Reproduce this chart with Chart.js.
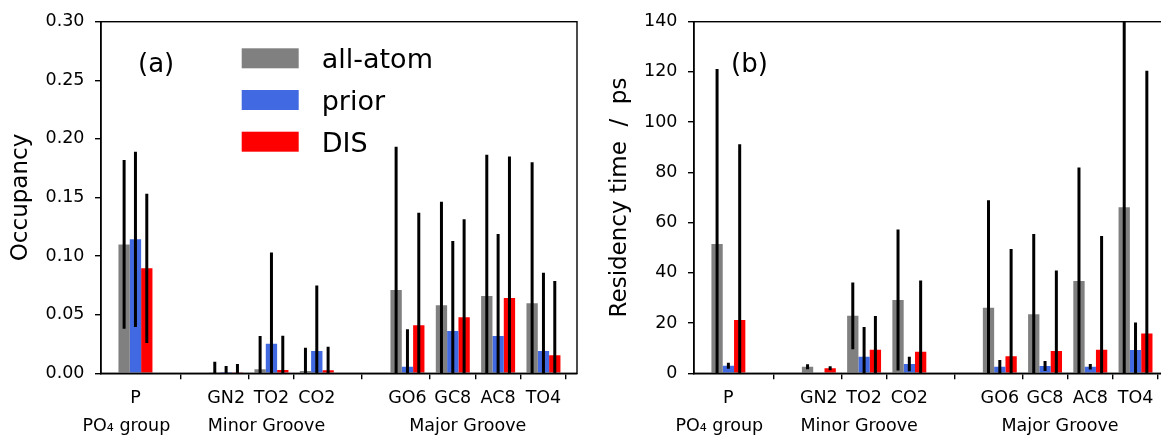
<!DOCTYPE html>
<html>
<head>
<meta charset="utf-8">
<script src="https://cdn.jsdelivr.net/npm/chart.js@4.4.1/dist/chart.umd.min.js"></script>
<style>
  html, body { margin: 0; padding: 0; background: #fff; overflow: hidden; }
  #wrap { position: relative; width: 1161px; height: 435px; overflow: hidden; }
  canvas { position: absolute; top: 0; }
  #chartA { left: 0; }
  #chartB { left: 590px; }
</style>
</head>
<body>
<div id="wrap">
  <canvas id="chartA" width="590" height="435"></canvas>
  <canvas id="chartB" width="590" height="435"></canvas>
</div>
<script>
// sites along the x axis (gaps between the groups)
const sites = ['P', 'GN2', 'TO2', 'CO2', 'GO6', 'GC8', 'AC8', 'TO4'];
const sitePos = [0, 2, 3, 4, 6, 7, 8, 9];
const groups = ['PO₄ group', 'Minor Groove', 'Major Groove'];
const groupPos = [-0.2, 2.89, 7.33];

const seriesNames = ['all-atom', 'prior', 'DIS'];
const seriesColors = ['#808080', '#4169e1', '#ff0000'];

// (a) occupancy
const occAll = [0.110, 0.0005, 0.0034, 0.0020, 0.0711, 0.0580, 0.0660, 0.0597];
const occAllErr = [0.072, 0.0094, 0.0284, 0.0198, 0.1222, 0.0884, 0.1205, 0.1203];
const occPrior = [0.1143, 0.0003, 0.0253, 0.0190, 0.0056, 0.0360, 0.0318, 0.0190];
const occPriorErr = [0.0747, 0.0059, 0.0777, 0.0560, 0.0319, 0.0769, 0.0871, 0.0668];
const occDis = [0.0896, 0.0004, 0.0028, 0.0026, 0.0410, 0.0478, 0.0643, 0.0154];
const occDisErr = [0.0637, 0.0075, 0.0292, 0.0201, 0.0960, 0.0836, 0.1207, 0.0634];
const occTicks = [0, 0.05, 0.10, 0.15, 0.20, 0.25, 0.30];

// (b) residency time (ps)
const resAll = [51.5, 2.6, 22.9, 29.2, 26.1, 23.5, 36.8, 66.1];
const resAllErr = [69.7, 1.0, 13.3, 28.1, 42.8, 32.0, 45.1, 75.0];
const resPrior = [3.0, 0, 6.6, 3.7, 2.6, 2.9, 2.6, 9.3];
const resPriorErr = [1.2, 0, 11.8, 2.9, 2.7, 2.0, 1.1, 10.9];
const resDis = [21.2, 2.0, 9.4, 8.6, 6.8, 8.9, 9.4, 15.8];
const resDisErr = [70.0, 0.8, 13.4, 28.4, 42.7, 32.0, 45.3, 104.7];
const resTicks = [0, 20, 40, 60, 80, 100, 120, 140];

const FONT = 'DejaVu Sans';

// black error bars, no caps, clipped to the axes
const errorBars = {
  id: 'errorBars',
  afterDatasetsDraw(chart) {
    const ctx = chart.ctx, a = chart.chartArea, y = chart.scales.y;
    ctx.save();
    ctx.beginPath();
    ctx.rect(a.left, a.top, a.right - a.left, a.bottom - a.top);
    ctx.clip();
    ctx.strokeStyle = '#000';
    ctx.lineWidth = 3;
    chart.data.datasets.forEach((ds, i) => {
      chart.getDatasetMeta(i).data.forEach((bar, j) => {
        const v = ds.data[j].y, e = ds.errors[j];
        if (!e) return;
        ctx.beginPath();
        ctx.moveTo(bar.x, y.getPixelForValue(v - e));
        ctx.lineTo(bar.x, y.getPixelForValue(v + e));
        ctx.stroke();
      });
    });
    ctx.restore();
  }
};

// frame, panel letter, group names under the ticks, legend
const decorations = {
  id: 'decorations',
  afterDraw(chart, args, opts) {
    const ctx = chart.ctx, a = chart.chartArea, x = chart.scales.x;
    ctx.save();
    ctx.strokeStyle = '#000';
    ctx.lineWidth = 1.4;
    ctx.strokeRect(a.left, a.top, a.right - a.left, a.bottom - a.top);

    ctx.fillStyle = '#000';
    ctx.textBaseline = 'alphabetic';
    ctx.textAlign = 'left';
    ctx.font = `26px "${FONT}"`;
    ctx.fillText(opts.panel, a.left + 37, a.top + 50.5);

    ctx.textAlign = 'center';
    ctx.font = `17.5px "${FONT}"`;
    groups.forEach((g, i) => ctx.fillText(g, x.getPixelForValue(groupPos[i]), a.bottom + 57.4));

    if (opts.legend) {
      ctx.textAlign = 'left';
      ctx.font = `27px "${FONT}"`;
      chart.data.datasets.forEach((ds, i) => {
        const top = a.top + 26.6 + 41.7 * i;
        ctx.fillStyle = ds.backgroundColor;
        ctx.fillRect(a.left + 140.7, top, 57, 20);
        ctx.fillStyle = '#000';
        ctx.fillText(ds.label, a.left + 220.7, top + 20);
      });
    }
    ctx.restore();
  }
};

function crearGrafico(id, series, errs, yTicks, fmt, yTitle, titlePad, yWidth, rightPad, panel, legend) {
  const datasets = series.map((vals, k) => ({
    label: seriesNames[k],
    data: vals.map((v, i) => ({ x: sitePos[i], y: v })),
    errors: errs[k],
    backgroundColor: seriesColors[k],
    borderWidth: 0,
    categoryPercentage: 0.75,
    barPercentage: 1.0
  }));

  return new Chart(document.getElementById(id), {
    type: 'bar',
    data: { datasets },
    options: {
      responsive: false,
      animation: false,
      events: [],
      layout: { padding: { top: 21.7, right: rightPad, left: 0, bottom: 0 } },
      plugins: {
        legend: { display: false },
        tooltip: { enabled: false },
        decorations: { panel, legend }
      },
      scales: {
        x: {
          type: 'linear',
          offset: false,
          min: -0.76,
          max: 9.74,
          afterBuildTicks: s => { s.ticks = sitePos.map(v => ({ value: v })); },
          afterFit: s => { s.height = 61.7; },
          grid: { drawOnChartArea: false, color: '#000', lineWidth: 1.4, tickLength: 6 },
          border: { color: '#000', width: 1.4 },
          ticks: {
            autoSkip: false, maxRotation: 0, padding: 9, color: '#000',
            font: { family: FONT, size: 17.5 },
            callback: v => sites[sitePos.indexOf(v)] || ''
          }
        },
        y: {
          min: yTicks[0],
          max: yTicks[yTicks.length - 1],
          afterBuildTicks: s => { s.ticks = yTicks.map(v => ({ value: v })); },
          afterFit: s => { s.width = yWidth; },
          grid: { drawOnChartArea: false, color: '#000', lineWidth: 1.4, tickLength: 6 },
          border: { color: '#000', width: 1.4 },
          ticks: { padding: 10.5, color: '#000', font: { family: FONT, size: 17.5 }, callback: fmt },
          title: {
            display: true, text: yTitle, color: '#000',
            font: { family: FONT, size: 23 },
            padding: { top: titlePad, bottom: 0 }
          }
        }
      }
    },
    plugins: [errorBars, decorations]
  });
}

document.addEventListener('DOMContentLoaded', () => {
  crearGrafico('chartA', [occAll, occPrior, occDis], [occAllErr, occPriorErr, occDisErr],
    occTicks, v => v.toFixed(2), 'Occupancy', 7, 101, 13, '(a)', true);
  crearGrafico('chartB', [resAll, resPrior, resDis], [resAllErr, resPriorErr, resDisErr],
    resTicks, v => String(v), 'Residency time  /  ps', 16.5, 104, 11, '(b)', false);
});
</script>
</body>
</html>
